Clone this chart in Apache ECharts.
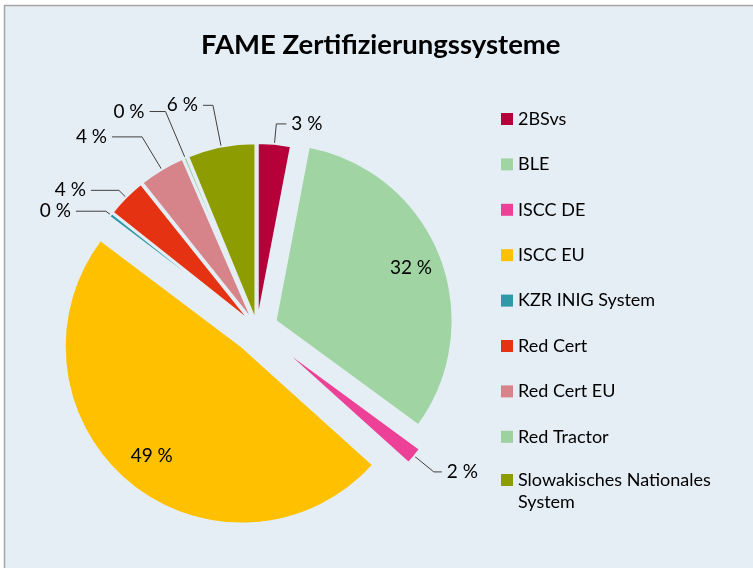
<!DOCTYPE html>
<html>
<head>
<meta charset="utf-8">
<script src="https://cdn.jsdelivr.net/npm/echarts@6/dist/echarts.min.js"></script>
<style>
  html, body { margin: 0; padding: 0; background: #fff; }
  #chart { width: 753px; height: 568px; }
</style>
</head>
<body>
<div id="chart"></div>
<script>
var names = ['2BSvs', 'BLE', 'ISCC DE', 'ISCC EU', 'KZR INIG System', 'Red Cert', 'Red Cert EU', 'Red Tractor', 'Slowakisches Nationales System'];
var values = [3.0, 32, 1.6, 48.5, 0.4, 3.6, 4.2, 0.3, 6.2];
var colors = ['#b5003a', '#a0d5a3', '#ec4196', '#ffc000', '#2e99a8', '#e53213', '#d6848a', '#9ed1a0', '#8d9c00'];
// which explosion group each slice belongs to
var group = [0, 1, 2, 3, 0, 0, 0, 0, 0];
var groupOffset = [8, 20, 26, 24];
var lineLen = [20, 0, 25, 0, 6, 10, 38, 50, 42];
var lineLen2 = [10, 0, 8, 0, 30, 28, 30, 16, 10];
var innerLabels = ['BLE', 'ISCC EU'];

var bg = '#e5eef5';
var font = 'Lato';
var center = [257, 328];
var R = 177;

var myChart = echarts.init(document.getElementById('chart'));

function pct(p) {
  return Math.round(p.percent) + ' %';
}

// one pie per explosion distance, the other slices are left invisible
var series = groupOffset.map(function (off, g) {
  return {
    name: 'FAME ' + g,
    type: 'pie',
    center: center,
    radius: R,
    startAngle: 90,
    clockwise: true,
    selectedMode: 'multiple',
    selectedOffset: off,
    avoidLabelOverlap: false,
    legendHoverLink: false,
    label: { formatter: pct, fontFamily: font, fontSize: 19, color: '#000' },
    labelLine: { length: 20, length2: 10, lineStyle: { color: '#404040', width: 1 } },
    emphasis: { disabled: true },
    data: names.map(function (n, i) {
      var mine = group[i] === g;
      var outer = mine && innerLabels.indexOf(n) < 0;
      return {
        name: n,
        value: values[i],
        selected: mine,
        itemStyle: mine ? { color: colors[i], borderColor: bg, borderWidth: 2 }
                        : { color: 'rgba(0,0,0,0)', borderWidth: 0 },
        label: { show: outer },
        labelLine: { show: outer, length: lineLen[i], length2: lineLen2[i] }
      };
    })
  };
});

// transparent ring that only carries the two big labels further out
series.push({
  name: 'FAME labels',
  type: 'pie',
  center: center,
  radius: [104, R],
  startAngle: 90,
  clockwise: true,
  silent: true,
  legendHoverLink: false,
  selectedMode: 'multiple',
  selectedOffset: 22,
  itemStyle: { color: 'rgba(0,0,0,0)' },
  label: { position: 'inside', formatter: pct, fontFamily: font, fontSize: 19, color: '#000' },
  labelLine: { show: false },
  emphasis: { disabled: true },
  data: names.map(function (n, i) {
    var show = innerLabels.indexOf(n) >= 0;
    return { name: n, value: values[i], selected: show, label: { show: show } };
  })
});

var legendItems = names.map(function (n, i) {
  return { name: n, itemStyle: { color: colors[i], borderWidth: 0 } };
});

var legendText = { fontFamily: font, fontSize: 18, color: '#000', lineHeight: 22 };

var option = {
  backgroundColor: '#ffffff',
  animation: false,
  graphic: [{
    type: 'rect',
    z: -10,
    shape: { x: 4.5, y: 5.5, width: 760, height: 580 },
    style: { fill: bg, stroke: '#a6a6a6', lineWidth: 1.5 }
  }],
  title: {
    text: 'FAME Zertifizierungssysteme',
    left: 196,
    top: 26,
    textStyle: { fontFamily: font, fontSize: 27.5, fontWeight: 'bold', color: '#000' }
  },
  legend: [{
    orient: 'vertical',
    left: 501,
    top: 108,
    padding: 0,
    itemWidth: 12,
    itemHeight: 12,
    itemGap: 23.4,
    icon: 'rect',
    selectedMode: false,
    data: legendItems.slice(0, 8),
    textStyle: legendText
  }, {
    // wrapped entry: empty first line keeps the icon level with the first text line
    orient: 'vertical',
    left: 501,
    top: 449,
    padding: 0,
    itemWidth: 12,
    itemHeight: 12,
    icon: 'rect',
    selectedMode: false,
    data: legendItems.slice(8),
    formatter: function (n) {
      return '{p| }\n{a|' + n.replace('Nationales ', 'Nationales}\n{a|') + '}';
    },
    textStyle: {
      fontFamily: font, fontSize: 18, color: '#000',
      rich: {
        p: { fontFamily: font, fontSize: 18, lineHeight: 22 },
        a: { fontFamily: font, fontSize: 18, color: '#000', lineHeight: 22 }
      }
    }
  }],
  series: series
};
myChart.setOption(option, true);
</script>
</body>
</html>
